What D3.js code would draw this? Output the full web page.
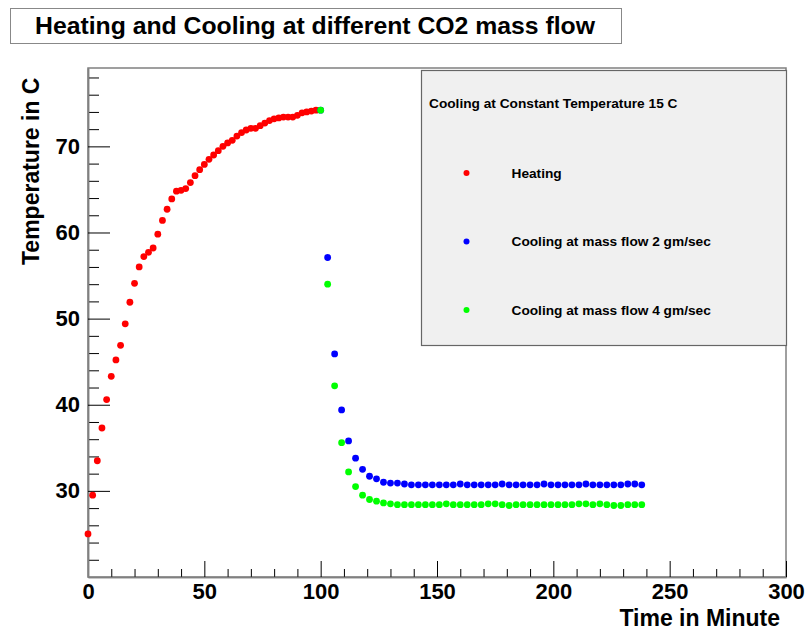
<!DOCTYPE html>
<html>
<head>
<meta charset="utf-8">
<script src="https://cdn.jsdelivr.net/npm/d3@7"></script>
<style>
  html, body { margin: 0; padding: 0; background: #ffffff; }
  svg { display: block; }
  text { font-family: "Liberation Sans", Arial, Helvetica, sans-serif; font-weight: bold; fill: #000; }
</style>
</head>
<body>
<svg id="chart" width="807" height="631"></svg>
<script>
// Heating run: temperature (C) sampled every 2 minutes
const heatTime = d3.range(0, 100, 2);
const heatTemp = [
  25.0, 29.5, 33.5, 37.3, 40.6, 43.3, 45.2, 46.9, 49.4, 51.9,
  54.1, 56.0, 57.2, 57.7, 58.2, 59.8, 61.4, 62.7, 63.9, 64.8,
  64.9, 65.1, 65.8, 66.6, 67.3, 67.9, 68.5, 69.0, 69.5, 70.0,
  70.4, 70.7, 71.2, 71.6, 71.9, 72.1, 72.1, 72.4, 72.7, 73.0,
  73.2, 73.3, 73.4, 73.4, 73.4, 73.6, 73.9, 74.0, 74.1, 74.2
];

// Cooling runs: sampled every 3 minutes from t = 100
const coolTime = d3.range(100, 239, 3);
const cool2Temp = [
  74.2, 57.1, 45.9, 39.4, 35.8, 33.8, 32.5, 31.7, 31.4, 31.0,
  30.9, 30.9, 30.8, 30.7, 30.7, 30.7, 30.7, 30.7, 30.7, 30.7,
  30.8, 30.7, 30.7, 30.7, 30.7, 30.7, 30.8, 30.7, 30.7, 30.7,
  30.7, 30.7, 30.8, 30.7, 30.7, 30.7, 30.7, 30.7, 30.8, 30.7,
  30.7, 30.7, 30.7, 30.7, 30.8, 30.8, 30.7
];
const cool4Temp = [
  74.2, 54.0, 42.2, 35.6, 32.2, 30.5, 29.5, 29.0, 28.8, 28.6,
  28.5, 28.4, 28.4, 28.4, 28.4, 28.4, 28.4, 28.4, 28.5, 28.4,
  28.4, 28.4, 28.4, 28.4, 28.5, 28.5, 28.4, 28.3, 28.4, 28.4,
  28.4, 28.4, 28.4, 28.4, 28.4, 28.4, 28.4, 28.5, 28.5, 28.4,
  28.5, 28.4, 28.3, 28.3, 28.4, 28.4, 28.4
];

const seriesNames = ["Heating", "Cooling at mass flow 2 gm/sec", "Cooling at mass flow 4 gm/sec"];
const seriesColors = ["#ff0000", "#0000ff", "#00ff00"];

const chartTitle = "Heating and Cooling at different CO2 mass flow";
const legendHeader = "Cooling at Constant Temperature 15 C";
const xTitle = "Time in Minute";
const yTitle = "Temperature in C";

const xMajor = d3.range(0, 301, 50);
const xMinor = d3.range(0, 301, 10).filter(v => v % 50 !== 0);
const yMajor = [30, 40, 50, 60, 70];
const yMinor = d3.range(22, 79, 2).filter(v => v % 10 !== 0);

const svg = d3.select("#chart");

const frame = { left: 88, right: 786, top: 68, bottom: 577 };
const x = d3.scaleLinear().domain([0, 300]).range([frame.left, frame.right]);
const y = d3.scaleLinear().domain([20.0, 79.1]).range([frame.bottom, frame.top]);

// Title box
svg.append("rect")
  .attr("x", 10.5).attr("y", 8.5).attr("width", 611).attr("height", 35)
  .attr("fill", "#ffffff").attr("stroke", "#888").attr("stroke-width", 1);
svg.append("text")
  .attr("x", 315).attr("y", 34)
  .attr("text-anchor", "middle")
  .attr("font-size", 24)
  .attr("textLength", 560).attr("lengthAdjust", "spacingAndGlyphs")
  .text(chartTitle);

// Plot frame
svg.append("rect")
  .attr("x", frame.left).attr("y", frame.top)
  .attr("width", frame.right - frame.left).attr("height", frame.bottom - frame.top)
  .attr("fill", "#ffffff").attr("stroke", "#808080").attr("stroke-width", 1.5);

// Legend box
const lg = svg.append("g");
lg.append("rect")
  .attr("x", 421.5).attr("y", 70.5).attr("width", 365).attr("height", 275)
  .attr("fill", "#f0f0f0").attr("stroke", "#666").attr("stroke-width", 1.2);
lg.append("text").attr("x", 429).attr("y", 108).attr("font-size", 13.7).text(legendHeader);
const legendRows = [173, 241.5, 310];
seriesNames.forEach((name, i) => {
  lg.append("circle").attr("cx", 466.5).attr("cy", legendRows[i]).attr("r", 3)
    .attr("fill", seriesColors[i]);
  lg.append("text").attr("x", 511.5).attr("y", legendRows[i] + 4.8)
    .attr("font-size", 13.7).text(name);
});

// Axes: ticks drawn inward, labels outside
const xAxisMajor = d3.axisBottom(x).tickValues(xMajor).tickSizeInner(-16).tickSizeOuter(0)
  .tickPadding(6).tickFormat(d3.format("d"));
const xAxisMinor = d3.axisBottom(x).tickValues(xMinor).tickSizeInner(-8).tickSizeOuter(0)
  .tickFormat("");
const yAxisMajor = d3.axisLeft(y).tickValues(yMajor).tickSizeInner(-22).tickSizeOuter(0)
  .tickPadding(8).tickFormat(d3.format("d"));
const yAxisMinor = d3.axisLeft(y).tickValues(yMinor).tickSizeInner(-11).tickSizeOuter(0)
  .tickFormat("");

function styleAxis(g) {
  g.select(".domain").attr("stroke", "#808080").attr("stroke-width", 1.5);
  g.selectAll(".tick line").attr("stroke", "#000").attr("stroke-width", 1);
  g.selectAll(".tick text").attr("font-size", 22).attr("font-family", "Liberation Sans, Arial, sans-serif")
    .attr("font-weight", "bold").attr("fill", "#000");
}
svg.append("g").attr("transform", `translate(0,${frame.bottom})`).call(xAxisMinor).call(styleAxis);
svg.append("g").attr("transform", `translate(0,${frame.bottom})`).call(xAxisMajor).call(styleAxis);
svg.append("g").attr("transform", `translate(${frame.left},0)`).call(yAxisMinor).call(styleAxis);
svg.append("g").attr("transform", `translate(${frame.left},0)`).call(yAxisMajor).call(styleAxis);

// Axis titles
svg.append("text")
  .attr("x", 780).attr("y", 626).attr("text-anchor", "end")
  .attr("font-size", 23).text(xTitle);
svg.append("text")
  .attr("transform", "translate(39,265) rotate(-90)")
  .attr("text-anchor", "start")
  .attr("font-size", 23).text(yTitle);

// Data points
const series = [
  heatTime.map((t, i) => [t, heatTemp[i]]),
  coolTime.map((t, i) => [t, cool2Temp[i]]),
  coolTime.map((t, i) => [t, cool4Temp[i]])
];
series.forEach((pts, i) => {
  svg.append("g").selectAll("circle").data(pts).join("circle")
    .attr("cx", d => x(d[0])).attr("cy", d => y(d[1])).attr("r", 3.4)
    .attr("fill", seriesColors[i]);
});
</script>
</body>
</html>
